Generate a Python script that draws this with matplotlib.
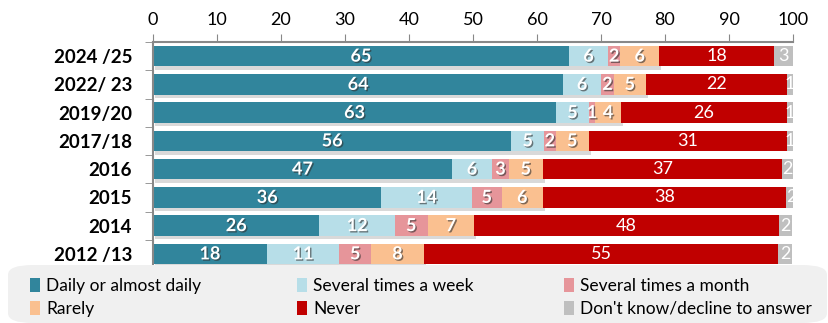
import matplotlib
matplotlib.use("Agg")
import matplotlib.pyplot as plt
import matplotlib.patheffects as pe
from matplotlib.patches import FancyBboxPatch, Patch
import numpy as np

plt.rcParams['font.family'] = ['Lato', 'DejaVu Sans']

years = ["2024 /25", "2022/ 23", "2019/20", "2017/18", "2016", "2015", "2014", "2012 /13"]
series = ["Daily or almost daily", "Several times a week", "Several times a month",
          "Rarely", "Never", "Don't know/decline to answer"]
daily   = [65.0, 64.1, 63.0, 56.0, 46.7, 35.7, 26.0, 17.8]
week    = [6.1, 5.9, 5.1, 5.1, 6.3, 14.1, 11.8, 11.3]
month   = [1.9, 2.0, 1.0, 1.8, 2.6, 4.7, 5.1, 5.0]
rarely  = [6.1, 5.0, 4.0, 5.2, 5.3, 6.4, 7.3, 8.2]
never   = [17.9, 22.0, 25.9, 30.9, 37.4, 38.0, 47.6, 55.4]
dontk   = [3.0, 1.0, 1.0, 1.0, 1.7, 1.6, 2.0, 2.2]
labels = {
    0: [65, 64, 63, 56, 47, 36, 26, 18],
    1: [6, 6, 5, 5, 6, 14, 12, 11],
    2: [2, 2, 1, 2, 3, 5, 5, 5],
    3: [6, 5, 4, 5, 5, 6, 7, 8],
    4: [18, 22, 26, 31, 37, 38, 48, 55],
    5: [3, 1, 1, 1, 2, 2, 2, 2],
}
colors = ["#31859c", "#b7dee8", "#e6959a", "#fac090", "#c00000", "#bfbfbf"]
xticks = [0, 10, 20, 30, 40, 50, 60, 70, 80, 90, 100]

W, H = 829, 323
fig = plt.figure(figsize=(W/100, H/100), dpi=100)

# legend background box
box = FancyBboxPatch((8/W, 0/H), 819/W, 58/H, boxstyle="round,pad=0,rounding_size=0.03",
                     transform=fig.transFigure, facecolor="#f0f0f0", edgecolor="none",
                     zorder=0)
fig.patches.append(box)

ax = fig.add_axes([153/W, 1-268/H, 640/W, 226/H])
ax.set_facecolor("none")
y = np.arange(len(years))
data = [daily, week, month, rarely, never, dontk]
left = np.zeros(len(years))
shadow = [pe.SimplePatchShadow(offset=(1.5, -2.5), shadow_rgbFace="#a0a0a0", alpha=0.4), pe.Normal()]
txt_shadow = [pe.SimplePatchShadow(offset=(1, -1), shadow_rgbFace="#303030", alpha=0.6), pe.Normal()]
for i, vals in enumerate(data):
    vals = np.array(vals)
    bars = ax.barh(y, vals, left=left, height=0.72, color=colors[i], label=series[i],
                   zorder=2 + i * 0.01)
    if i < 4:
        for b in bars:
            b.set_path_effects(shadow)
    for j, v in enumerate(vals):
        cx = left[j] + v / 2
        if i < 4:
            ax.text(cx, y[j], str(labels[i][j]), ha="center", va="center", color="white",
                    fontsize=13, fontweight="bold", path_effects=txt_shadow, zorder=5)
        else:
            ax.text(cx, y[j], str(labels[i][j]), ha="center", va="center", color="white",
                    fontsize=13, zorder=5, clip_on=True)
    left = left + vals

ax.set_xlim(0, 100)
ax.set_ylim(len(years) - 0.5, -0.5)
ax.xaxis.tick_top()
ax.set_xticks(xticks)
ax.set_xticklabels([str(t) for t in xticks], fontsize=13)
ax.tick_params(axis="x", length=6, color="#888888", pad=4)
ax.set_yticks(y)
ax.set_yticklabels(years, fontsize=13.5, fontweight="bold")
ax.set_yticks(np.arange(len(years) + 1) - 0.5, minor=True)
ax.tick_params(axis="y", which="major", length=0, pad=15)
ax.tick_params(axis="y", which="minor", length=6, color="#888888")
for s in ["right", "bottom"]:
    ax.spines[s].set_visible(False)
for s in ["top", "left"]:
    ax.spines[s].set_color("#888888")
    ax.spines[s].set_linewidth(1.5)

handles = [Patch(facecolor=c) for c in colors]
cols = [(0, 3), (1, 4), (2, 5)]
xs = [30, 297, 564]
for (a, b), x0 in zip(cols, xs):
    leg = fig.legend([handles[a], handles[b]], [series[a], series[b]],
                     loc="upper left", bbox_to_anchor=(x0/W, 1-278/H), frameon=False,
                     fontsize=12.5, handlelength=0.55, handleheight=0.8, handletextpad=0.4,
                     labelspacing=0.4, borderpad=0, borderaxespad=0)

fig.savefig("out.png", dpi=100)
